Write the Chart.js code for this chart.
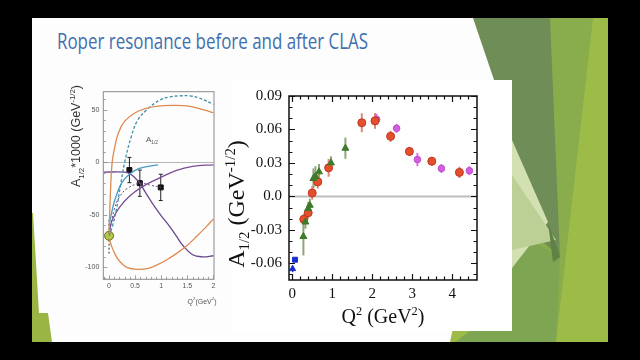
<!DOCTYPE html>
<html><head><meta charset="utf-8">
<script src="https://cdn.jsdelivr.net/npm/chart.js@4.4.0/dist/chart.umd.min.js"></script>
<style>
html,body{margin:0;padding:0;background:#000;width:640px;height:360px;overflow:hidden;}
#slide{position:absolute;left:32px;top:18px;width:576px;height:324px;background:#fdfdfd;}
svg{position:absolute;left:0;top:0;}
#title{position:absolute;left:57px;top:31px;font-family:'Open Sans';font-size:21px;line-height:20px;color:#3f6fae;white-space:nowrap;transform-origin:0 0;}
#rbox{position:absolute;left:232px;top:80px;width:280px;height:251px;background:#fff;}
#c1wrap{position:absolute;left:60px;top:80px;width:180px;height:230px;}
#c2wrap{position:absolute;left:245px;top:80px;width:267px;height:251px;}
.lbl{position:absolute;white-space:nowrap;}
.rot{transform:translate(-50%,-50%) rotate(-90deg);}
.ctr{transform:translate(-50%,-50%);}
sub,sup{font-size:62%;line-height:0;}
</style></head>
<body>
<div id="slide"></div>
<svg width="640" height="360">
  <polygon points="520,18 608,18 608,342 450,342" fill="#9cbb47"/>
  <polygon points="550,18 593,18 556,342 520,342" fill="#89ad4c"/>
  <polygon points="473,18 550,18 560,257 512,215 512,133" fill="#6f8d56"/>
  <polygon points="512,230 560,257 556,342 455,342 512,300" fill="#7ea552"/>
  <polygon points="512,140 548,222 512,268" fill="#d3e0b1"/>
  <polygon points="512,175 556,240 512,250" fill="#bcd096"/>
  <polygon points="548,222 560,257 553,262" fill="#5f8143"/>
  <polygon points="32,213 33,213 39,313 48,313 52,342 32,342" fill="#9bb545"/>
</svg>
<div id="title">Roper resonance before and after CLAS</div>
<div id="rbox"></div>
<div id="c1wrap"><canvas id="c1" width="180" height="230"></canvas></div>
<div id="c2wrap"><canvas id="c2" width="267" height="251"></canvas></div>
<div class="lbl rot" style="left:76px;top:136px;font:12.5px 'Liberation Sans';color:#333;">A<sub>1/2</sub>*1000 (GeV<sup>-1/2</sup>)</div>
<div class="lbl ctr" style="left:202px;top:301px;font:7px 'Liberation Sans';color:#555;">Q<sup>2</sup>(GeV<sup>2</sup>)</div>
<div class="lbl ctr" style="left:152px;top:139px;font:8px 'Liberation Sans';color:#555;">A<sub>1/2</sub></div>
<div class="lbl rot" style="left:236px;top:204px;font:24px 'Liberation Serif';color:#111;">A<sub>1/2</sub> (GeV<sup>-1/2</sup>)</div>
<div class="lbl ctr" style="left:383px;top:316px;font:20px 'Liberation Serif';color:#111;">Q<sup>2</sup> (GeV<sup>2</sup>)</div>
<script>
// ---------- Right chart data (A1/2 in GeV^-1/2 vs Q^2 in GeV^2) ----------
const redQ2  = [0.29, 0.40, 0.50, 0.64, 0.91, 1.74, 2.07, 2.46, 2.93, 3.49, 4.18];
const redA   = [-0.0205, -0.0147, 0.003, 0.013, 0.0256, 0.066, 0.0677, 0.0538, 0.0403, 0.0315, 0.0215];
const redErr = [0.005, 0.005, 0.006, 0.006, 0.008, 0.0085, 0.007, 0.005, 0.004, 0.004, 0.005];
const greenQ2  = [0.28, 0.33, 0.40, 0.44, 0.53, 0.58, 0.67, 0.97, 1.33];
const greenA   = [-0.036, -0.023, -0.011, -0.008, 0.016, 0.018, 0.022, 0.030, 0.0432];
const greenErr = [0.017, 0.006, 0.006, 0.006, 0.009, 0.009, 0.007, 0.006, 0.0095];
const magQ2  = [2.11, 2.61, 3.13, 3.73, 4.43];
const magA   = [0.069, 0.061, 0.033, 0.025, 0.023];
const magErr = [0.005, 0.004, 0.006, 0.004, 0.004];
const blueSqQ2 = [0.07];
const blueSqA  = [-0.0568];
const blueTrQ2 = [0.01];
const blueTrA  = [-0.065];
const blueTrErr = [0.003];
const rightXTicks = [0,0.2,0.4,0.6,0.8,1,1.2,1.4,1.6,1.8,2,2.2,2.4,2.6,2.8,3,3.2,3.4,3.6,3.8,4,4.2,4.4];
const rightXLabels = {0:'0',1:'1',2:'2',3:'3',4:'4'};
const rightYTicks = [-0.07,-0.06,-0.05,-0.04,-0.03,-0.02,-0.01,0,0.01,0.02,0.03,0.04,0.05,0.06,0.07,0.08,0.09];
const rightYLabels = {'-0.06':'-0.06','-0.03':'-0.03','0':'0.0','0.03':'0.03','0.06':'0.06','0.09':'0.09'};

// ---------- Left chart data (A1/2*1000 vs Q^2) ----------
const orangeUpX = [0, 0.03, 0.06, 0.1, 0.18, 0.3, 0.5, 0.7, 0.9, 1.2, 1.5, 1.8, 2.0];
const orangeUpY = [-68, -25, 0, 12, 28, 39, 47, 51, 53, 54, 53.5, 50, 47];
const orangeLoX = [0, 0.05, 0.11, 0.2, 0.34, 0.56, 0.75, 0.91, 1.1, 1.29, 1.5, 1.67, 1.85, 2.0];
const orangeLoY = [-72, -80, -87, -94, -100, -102, -101, -98, -93, -87, -79, -71, -62, -54];
const tealDashX = [0, 0.07, 0.14, 0.22, 0.3, 0.43, 0.55, 0.73, 0.97, 1.15, 1.35, 1.55, 1.73, 2.0];
const tealDashY = [-70, -60, -45, -22, 0, 25, 40, 50, 59, 62, 63, 63, 61, 55];
const tealX = [0, 0.05, 0.11, 0.24, 0.4, 0.58, 0.75, 0.94];
const tealY = [-60, -48, -36, -20, -11, -6, -4, -2.5];
const purpleAX = [-0.1, 0.3, 0.4, 0.5, 0.59, 0.7, 0.84, 1.0, 1.16, 1.3, 1.41, 1.6, 1.79, 2.0];
const purpleAY = [-9.5, -9.5, -11, -15, -20, -29, -40, -51, -61, -71, -79, -88, -90, -89];
const purpleBX = [0, 0.03, 0.07, 0.2, 0.4, 0.65, 0.97, 1.28, 1.6, 2.0];
const purpleBY = [-68, -60, -54, -43, -32, -23, -15, -8, -4, -2.5];
const purpleDashX = [0, 0.1, 0.2, 0.35, 0.6, 0.8, 1.0];
const purpleDashY = [-68, -45, -33, -25, -20, -22, -24];
const sqX = [0.39, 0.59, 0.99];
const sqY = [-7.5, -20, -24];
const sqErr = [12, 12.5, 12.5];
const dotX = [0];
const dotY = [-70];
const dotErr = [17];
const leftXTicks = [-0.1,0,0.1,0.2,0.3,0.4,0.5,0.6,0.7,0.8,0.9,1,1.1,1.2,1.3,1.4,1.5,1.6,1.7,1.8,1.9,2];
const leftXLabels = {'0':'0','0.5':'0.5','1':'1','1.5':'1.5','2':'2'};
const leftYTicks = [-110,-100,-90,-80,-70,-60,-50,-40,-30,-20,-10,0,10,20,30,40,50,60];
const leftYLabels = {'-100':'-100','-50':'-50','0':'0','50':'50'};

const pts = (xs, ys) => xs.map((x, i) => ({x, y: ys[i]}));
const key = v => String(Math.round(v * 1000) / 1000);

// ---------- plugins ----------
const errorBars = {
  id: 'errorBars',
  beforeDatasetsDraw(chart) {
    const {ctx, scales: {x, y}} = chart;
    chart.data.datasets.forEach((ds) => {
      if (!ds.errs) return;
      ctx.save();
      ctx.strokeStyle = ds.errColor; ctx.lineWidth = ds.errWidth || 1.5;
      if (ds.errDash) ctx.setLineDash(ds.errDash);
      ds.data.forEach((p, j) => {
        const e = ds.errs[j];
        const px = x.getPixelForValue(p.x);
        const y1 = y.getPixelForValue(p.y - e), y2 = y.getPixelForValue(p.y + e);
        ctx.beginPath(); ctx.moveTo(px, y1); ctx.lineTo(px, y2);
        if (ds.errCap) {
          ctx.moveTo(px - ds.errCap, y1); ctx.lineTo(px + ds.errCap, y1);
          ctx.moveTo(px - ds.errCap, y2); ctx.lineTo(px + ds.errCap, y2);
        }
        ctx.stroke();
      });
      ctx.restore();
    });
  }
};
const zeroLine = {
  id: 'zeroLine',
  beforeDatasetsDraw(chart, args, opts) {
    const {ctx, chartArea: a, scales: {y}} = chart;
    const py = Math.round(y.getPixelForValue(0)) + 0.5;
    ctx.save(); ctx.strokeStyle = opts.color; ctx.lineWidth = opts.width;
    ctx.beginPath(); ctx.moveTo(a.left, py); ctx.lineTo(a.right, py); ctx.stroke(); ctx.restore();
  }
};
const frameTicks = {
  id: 'frameTicks',
  afterDraw(chart, args, o) {
    const {ctx, chartArea: a, scales: {x, y}} = chart;
    ctx.save();
    ctx.strokeStyle = o.color; ctx.lineWidth = o.width;
    ctx.strokeRect(a.left, a.top, a.right - a.left, a.bottom - a.top);
    ctx.lineWidth = o.tickWidth;
    ctx.beginPath();
    x.ticks.forEach(t => {
      const L = o.xLabels[key(t.value)] !== undefined ? o.major : o.minor;
      const px = Math.round(x.getPixelForValue(t.value)) + 0.5;
      ctx.moveTo(px, a.bottom); ctx.lineTo(px, a.bottom - L);
      if (o.mirror) { ctx.moveTo(px, a.top); ctx.lineTo(px, a.top + L); }
    });
    y.ticks.forEach(t => {
      const L = o.yLabels[key(t.value)] !== undefined ? o.major : o.minor;
      const py = Math.round(y.getPixelForValue(t.value)) + 0.5;
      ctx.moveTo(a.left, py); ctx.lineTo(a.left + L, py);
      if (o.mirror) { ctx.moveTo(a.right, py); ctx.lineTo(a.right - L, py); }
    });
    ctx.stroke();
    ctx.restore();
  }
};

// ---------- Right chart ----------
const serif = {family: 'Liberation Serif', size: 15};
new Chart(document.getElementById('c2'), {
  type: 'scatter',
  data: {datasets: [
    {data: pts(greenQ2, greenA), errs: greenErr, errColor: '#8fa67a', errWidth: 2,
     pointStyle: 'triangle', pointRadius: 4, backgroundColor: '#3e7a2a', borderColor: '#3e7a2a', borderWidth: 1},
    {data: pts(redQ2, redA), errs: redErr, errColor: '#d98a7c', errWidth: 2,
     pointStyle: 'circle', pointRadius: 4, backgroundColor: '#e4502e', borderColor: '#c0341c', borderWidth: 1},
    {data: pts(magQ2, magA), errs: magErr, errColor: '#d576e2', errWidth: 2,
     pointStyle: 'circle', pointRadius: 3.3, backgroundColor: '#d45ee0', borderColor: '#c04ad0', borderWidth: 1},
    {data: pts(blueTrQ2, blueTrA), errs: blueTrErr, errColor: '#1a2fd0', errWidth: 1.5,
     pointStyle: 'triangle', pointRadius: 3.5, backgroundColor: '#1a2fd0', borderColor: '#1a2fd0', borderWidth: 1},
    {data: pts(blueSqQ2, blueSqA), pointStyle: 'rect', pointRadius: 3.5,
     backgroundColor: '#1a2fd0', borderColor: '#1a2fd0', borderWidth: 1}
  ]},
  options: {
    responsive: false, animation: false, events: [],
    layout: {padding: {left: 0, right: 35, top: 12.7, bottom: 0}},
    plugins: {legend: {display: false}, tooltip: {enabled: false},
      zeroLine: {color: '#bdbdbd', width: 2},
      frameTicks: {color: '#111', width: 1.5, tickWidth: 1.2, major: 6, minor: 3.5, mirror: true,
                   xLabels: rightXLabels, yLabels: rightYLabels}},
    scales: {
      x: {type: 'linear', min: -0.08, max: 4.62,
          afterBuildTicks: s => { s.ticks = rightXTicks.map(v => ({value: v})); },
          afterFit: s => { s.height = 51; },
          grid: {display: false, drawTicks: false}, border: {display: false},
          ticks: {autoSkip: false, maxRotation: 0, padding: 5, color: '#111', font: serif,
                  callback: v => rightXLabels[key(v)] ?? ''}},
      y: {type: 'linear', min: -0.075, max: 0.09,
          afterBuildTicks: s => { s.ticks = rightYTicks.map(v => ({value: v})); },
          afterFit: s => { s.width = 44; },
          grid: {display: false, drawTicks: false}, border: {display: false},
          ticks: {autoSkip: false, padding: 7, color: '#111', font: serif,
                  callback: v => rightYLabels[key(v)] ?? ''}}
    }
  },
  plugins: [zeroLine, errorBars, frameTicks]
});

// ---------- Left chart ----------
const curve = (xs, ys, color, dash, w) => ({data: pts(xs, ys), showLine: true, tension: 0.4,
  borderColor: color, borderWidth: w || 1.3, borderDash: dash || [], pointRadius: 0, fill: false});
const small = {family: 'Liberation Sans', size: 7};
new Chart(document.getElementById('c1'), {
  type: 'scatter',
  data: {datasets: [
    curve(orangeUpX, orangeUpY, '#df8a52'),
    curve(orangeLoX, orangeLoY, '#df8a52'),
    curve(tealDashX, tealDashY, '#3f8ea6', [3, 2]),
    curve(tealX, tealY, '#4a9cc6'),
    curve(purpleAX, purpleAY, '#6a4a8e'),
    curve(purpleBX, purpleBY, '#7a4e96'),
    curve(purpleDashX, purpleDashY, '#6a4a7e', [2, 2], 1),
    {data: pts(sqX, sqY), errs: sqErr, errColor: '#222', errWidth: 1, errCap: 2,
     pointStyle: 'rect', pointRadius: 3.5, backgroundColor: '#111', borderColor: '#111', borderWidth: 1},
    {data: pts(dotX, dotY), errs: dotErr, errColor: '#333', errWidth: 1, errDash: [2, 2],
     pointStyle: 'circle', pointRadius: 4.5, backgroundColor: '#b7c846', borderColor: '#5a6e22', borderWidth: 1}
  ]},
  options: {
    responsive: false, animation: false, events: [],
    layout: {padding: {left: 0, right: 26, top: 11.7, bottom: 0}},
    plugins: {legend: {display: false}, tooltip: {enabled: false},
      zeroLine: {color: '#b5b5b5', width: 1},
      frameTicks: {color: '#8a8a8a', width: 1, tickWidth: 0.8, major: 4, minor: 2.5, mirror: false,
                   xLabels: leftXLabels, yLabels: leftYLabels}},
    scales: {
      x: {type: 'linear', min: -0.11, max: 2.01,
          afterBuildTicks: s => { s.ticks = leftXTicks.map(v => ({value: v})); },
          afterFit: s => { s.height = 30.7; },
          grid: {display: false, drawTicks: false}, border: {display: false},
          ticks: {autoSkip: false, maxRotation: 0, padding: 3, color: '#555', font: small,
                  callback: v => leftXLabels[key(v)] ?? ''}},
      y: {type: 'linear', min: -111.4, max: 67,
          afterBuildTicks: s => { s.ticks = leftYTicks.map(v => ({value: v})); },
          afterFit: s => { s.width = 43.3; },
          grid: {display: false, drawTicks: false}, border: {display: false},
          ticks: {autoSkip: false, padding: 4, color: '#555', font: small,
                  callback: v => leftYLabels[key(v)] ?? ''}}
    }
  },
  plugins: [zeroLine, errorBars, frameTicks]
});

// fit the title to its width on the slide
const t = document.getElementById('title');
t.style.transform = 'scaleX(' + (311 / t.offsetWidth) + ')';
</script>
</body></html>
